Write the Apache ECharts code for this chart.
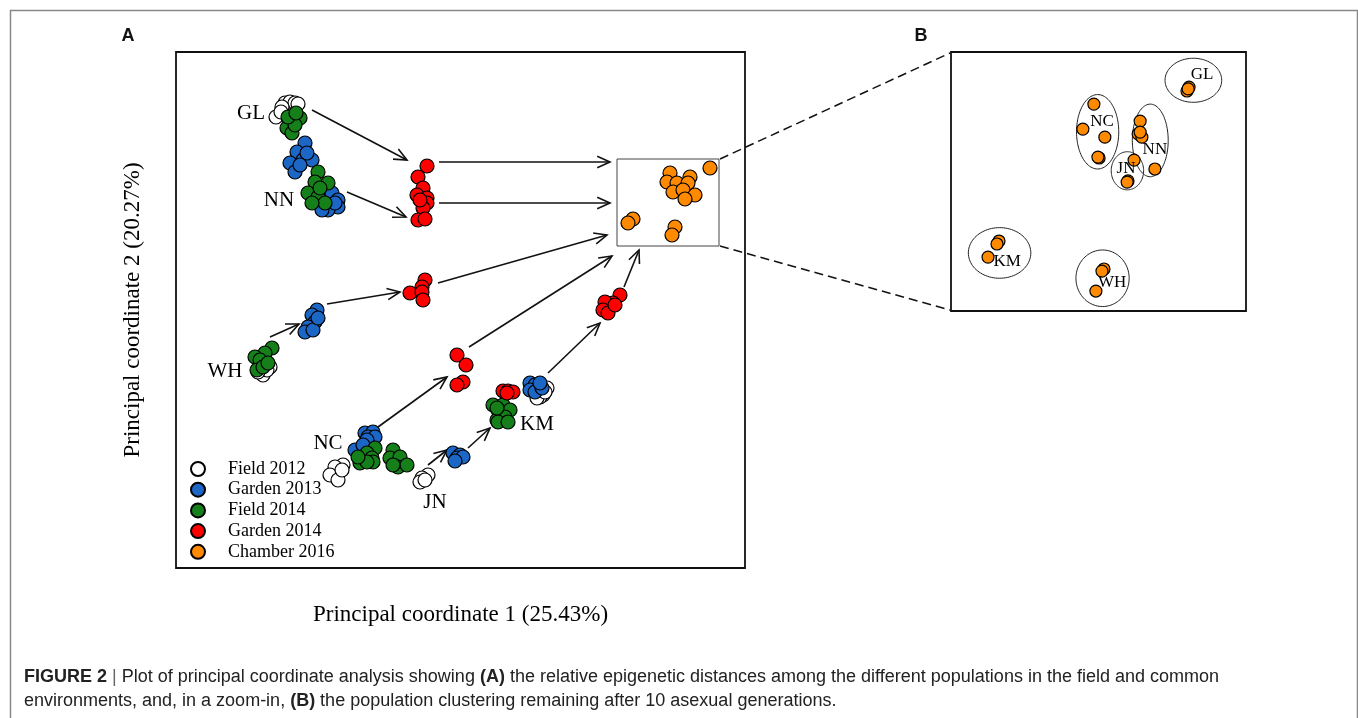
<!DOCTYPE html>
<html><head><meta charset="utf-8">
<script src="https://cdn.jsdelivr.net/npm/echarts@6/dist/echarts.min.js"></script>
<style>html,body{margin:0;padding:0;background:#fff}#c{width:1358px;height:718px}</style>
</head><body><div id="c"></div>
<script>
// ---- Panel A data (principal coordinate scores, arbitrary units) ----
const field2012 = [
  [-1.75,2.07],[-1.70,2.08],[-1.65,2.07],[-1.62,2.06],[-1.78,2.03],[-1.84,1.93],[-1.79,1.98],
  [-1.90,-0.57],[-1.97,-0.65],[-1.93,-0.60],[-2.02,-0.62],
  [-1.17,-1.55],[-1.25,-1.57],[-1.30,-1.65],[-1.22,-1.70],[-1.18,-1.60],
  [-0.32,-1.65],[-0.38,-1.68],[-0.40,-1.72],[-0.35,-1.70],
  [0.83,-0.85],[0.80,-0.87],[0.77,-0.88],[0.87,-0.78],[0.85,-0.82]
];
const garden2013 = [
  [-1.55,1.67],[-1.63,1.58],[-1.70,1.47],[-1.65,1.38],[-1.57,1.50],[-1.48,1.50],[-1.53,1.57],[-1.60,1.45],
  [-1.28,1.17],[-1.22,1.10],[-1.22,1.03],[-1.32,1.00],[-1.38,1.00],[-1.25,1.07],
  [-1.43,0.00],[-1.48,-0.05],[-1.45,-0.12],[-1.52,-0.17],[-1.55,-0.22],[-1.47,-0.20],[-1.42,-0.08],
  [-0.95,-1.23],[-0.87,-1.22],[-0.92,-1.27],[-0.85,-1.27],[-0.93,-1.30],[-1.05,-1.40],[-0.97,-1.35],
  [-0.07,-1.43],[0.00,-1.45],[-0.03,-1.48],[0.03,-1.47],[-0.05,-1.51],
  [0.70,-0.73],[0.75,-0.75],[0.70,-0.80],[0.75,-0.82],[0.82,-0.78],[0.80,-0.73]
];
const field2014 = [
  [-1.60,1.92],[-1.70,1.90],[-1.73,1.82],[-1.68,1.77],[-1.65,1.85],[-1.72,1.93],[-1.64,1.97],
  [-1.42,1.38],[-1.45,1.28],[-1.32,1.27],[-1.52,1.17],[-1.42,1.13],[-1.35,1.07],[-1.48,1.07],[-1.40,1.22],
  [-1.88,-0.38],[-1.95,-0.43],[-2.05,-0.47],[-2.00,-0.50],[-2.03,-0.60],[-1.97,-0.57],[-1.92,-0.53],
  [-0.85,-1.38],[-0.93,-1.43],[-0.88,-1.48],[-1.00,-1.53],[-0.87,-1.52],[-0.93,-1.52],[-1.02,-1.47],
  [-0.67,-1.40],[-0.70,-1.48],[-0.60,-1.47],[-0.62,-1.57],[-0.53,-1.55],[-0.67,-1.55],
  [0.33,-0.95],[0.43,-0.95],[0.38,-1.00],[0.50,-1.00],[0.37,-1.10],[0.45,-1.07],[0.38,-1.12],[0.48,-1.12],[0.37,-0.98]
];
const garden2014 = [
  [-0.33,1.44],[-0.42,1.33],[-0.37,1.22],[-0.43,1.15],[-0.33,1.12],[-0.33,1.07],[-0.37,1.02],[-0.42,0.90],[-0.35,0.91],[-0.40,1.10],
  [-0.35,0.30],[-0.38,0.23],[-0.50,0.17],[-0.38,0.18],[-0.37,0.10],
  [-0.03,-0.45],[0.06,-0.55],[0.03,-0.72],[-0.03,-0.75],
  [0.43,-0.81],[0.48,-0.81],[0.53,-0.82],[0.47,-0.83],
  [1.60,0.15],[1.53,0.07],[1.45,0.08],[1.43,0.00],[1.48,-0.03],[1.55,0.05]
];
const chamber2016 = [
  [2.50,1.42],[2.10,1.37],[2.30,1.33],[2.07,1.28],[2.17,1.27],[2.28,1.27],[2.13,1.18],
  [2.23,1.20],[2.35,1.15],[2.25,1.11],[1.73,0.91],[1.68,0.87],[2.15,0.83],[2.12,0.75]
];
const popNamesA = ['GL','NN','WH','NC','JN','KM'];
const popLabelPosA = [[-2.09,1.97],[-1.81,1.10],[-2.35,-0.61],[-1.32,-1.33],[-0.25,-1.92],[0.77,-1.14]];
// arrows: [fromX, fromY, toX, toY]
const arrowsA = [
  [-1.48,2.00,-0.53,1.50],
  [-1.13,1.18,-0.54,0.93],
  [-0.21,1.48,1.50,1.48],
  [-0.21,1.07,1.50,1.07],
  [-0.22,0.27,1.47,0.75],
  [-1.90,-0.27,-1.61,-0.14],
  [-1.33,0.06,-0.60,0.18],
  [0.09,-0.37,1.52,0.54],
  [-0.82,-1.17,-0.13,-0.67],
  [-0.32,-1.55,-0.13,-1.40],
  [0.08,-1.38,0.30,-1.18],
  [0.88,-0.63,1.40,-0.13],
  [1.64,0.23,1.79,0.60]
];
const rangeA = {xMin:-2.84, xMax:2.85, yMin:-2.58, yMax:2.58};
// zoom window [xMin, yMax, xMax, yMin]
const zoomBox = [1.57, 1.51, 2.59, 0.64];

// ---- Panel B data (zoom-in on Chamber 2016) ----
const chamberZoom = [
  [2.393,1.392],[2.386,1.379],[2.390,1.386],
  [2.064,1.335],[2.026,1.251],[2.102,1.224],[2.082,1.154],[2.078,1.157],
  [2.224,1.278],[2.217,1.235],[2.230,1.224],[2.224,1.241],[2.275,1.117],
  [2.203,1.147],[2.182,1.077],[2.179,1.073],
  [1.736,0.875],[1.729,0.865],[1.698,0.821],
  [2.099,0.781],[2.092,0.774],[2.071,0.707]
];
// ellipses: [cx, cy, rx, ry]
const ellipsesB = [
  [2.408,1.415,0.098,0.074],
  [2.077,1.242,0.073,0.125],
  [2.259,1.213,0.062,0.122],
  [2.180,1.111,0.056,0.064],
  [1.738,0.835,0.108,0.085],
  [2.094,0.750,0.092,0.095]
];
const popNamesB = ['GL','NC','NN','JN','KM','WH'];
const popLabelPosB = [[2.438,1.433],[2.092,1.278],[2.275,1.181],[2.175,1.117],[1.764,0.805],[2.127,0.734]];

const legendNames = ['Field 2012','Garden 2013','Field 2014','Garden 2014','Chamber 2016'];
const colors = {'Field 2012':'#ffffff','Garden 2013':'#1c66c6','Field 2014':'#15801a','Garden 2014':'#ff0000','Chamber 2016':'#ff8a00'};

const SERIF = '"Liberation Serif","Times New Roman",serif';
const NARROW = '"Liberation Sans Narrow","Liberation Sans",Arial,sans-serif';

const chart = echarts.init(document.getElementById('c'), null, {renderer:'canvas'});

function pointSeries(name, data, gi, size){
  return {
    name, type:'scatter', xAxisIndex:gi, yAxisIndex:gi, data,
    symbol:'circle', symbolSize:size, silent:true,
    itemStyle:{color:colors[name], borderColor:'#000', borderWidth:1.2, opacity:1}
  };
}
function labelSeries(names, pos, gi, fs){
  return {
    name:'labels'+gi, type:'scatter', xAxisIndex:gi, yAxisIndex:gi, silent:true,
    symbolSize:1, itemStyle:{color:'#fff', opacity:1},
    data: names.map((n,i)=>({name:n, value:pos[i]})),
    label:{show:true, position:'inside', formatter:'{b}', fontFamily:SERIF, fontSize:fs, color:'#000',
      textBorderWidth:0, textBorderColor:'transparent'},
    z:5
  };
}
const hideAxis = {axisLine:{show:false}, axisTick:{show:false}, axisLabel:{show:false}, splitLine:{show:false}};

chart.setOption({
  animation:false,
  backgroundColor:'#fff',
  grid:[
    {left:176, top:52, width:569, height:516, show:true, borderColor:'#111', borderWidth:1.8, backgroundColor:'transparent'},
    {left:951, top:52, width:295, height:259, show:true, borderColor:'#111', borderWidth:1.8, backgroundColor:'transparent'}
  ],
  xAxis:[
    Object.assign({type:'value', gridIndex:0, min:rangeA.xMin, max:rangeA.xMax,
      name:'Principal coordinate 1 (25.43%)', nameLocation:'middle', nameGap:35,
      nameTextStyle:{fontFamily:SERIF, fontSize:23, color:'#000'}}, hideAxis),
    Object.assign({type:'value', gridIndex:1, min:zoomBox[0], max:zoomBox[2]}, hideAxis)
  ],
  yAxis:[
    Object.assign({type:'value', gridIndex:0, min:rangeA.yMin, max:rangeA.yMax,
      name:'Principal coordinate 2 (20.27%)', nameLocation:'middle', nameGap:32, nameRotate:90,
      nameTextStyle:{fontFamily:SERIF, fontSize:23, color:'#000'}}, hideAxis),
    Object.assign({type:'value', gridIndex:1, min:zoomBox[3], max:zoomBox[1]}, hideAxis)
  ],
  legend:{
    data:legendNames, orient:'vertical', left:190, top:460, padding:0, itemWidth:14, itemHeight:14, itemGap:2.7,
    icon:'circle', selectedMode:false,
    textStyle:{fontFamily:SERIF, fontSize:18, color:'#000', padding:[0,0,0,18]}
  },
  series:[
    {
      name:'zoomBox', type:'custom', xAxisIndex:0, yAxisIndex:0, silent:true,
      data:[zoomBox], encode:{x:[0,2], y:[1,3]},
      renderItem:function(params, api){
        const a = api.coord([api.value(0), api.value(1)]);
        const b = api.coord([api.value(2), api.value(3)]);
        return {type:'rect', shape:{x:a[0], y:a[1], width:b[0]-a[0], height:b[1]-a[1]},
          style:{stroke:'#444', lineWidth:1, fill:'none'}};
      }, z:1
    },
    {
      name:'arrows', type:'custom', xAxisIndex:0, yAxisIndex:0, silent:true,
      data:arrowsA, encode:{x:[0,2], y:[1,3]},
      renderItem:function(params, api){
        const p1 = api.coord([api.value(0), api.value(1)]);
        const p2 = api.coord([api.value(2), api.value(3)]);
        const ang = Math.atan2(p2[1]-p1[1], p2[0]-p1[0]);
        const L = 14, w = Math.PI/7.5;
        const w1 = [p2[0]-L*Math.cos(ang-w), p2[1]-L*Math.sin(ang-w)];
        const w2 = [p2[0]-L*Math.cos(ang+w), p2[1]-L*Math.sin(ang+w)];
        return {type:'group', children:[
          {type:'line', shape:{x1:p1[0], y1:p1[1], x2:p2[0], y2:p2[1]}, style:{stroke:'#111', lineWidth:1.6}},
          {type:'polyline', shape:{points:[w1,p2,w2]}, style:{stroke:'#111', lineWidth:1.6, fill:'none'}}
        ]};
      }, z:2
    },
    pointSeries('Field 2012', field2012, 0, 14),
    pointSeries('Garden 2013', garden2013, 0, 14),
    pointSeries('Field 2014', field2014, 0, 14),
    pointSeries('Garden 2014', garden2014, 0, 14),
    pointSeries('Chamber 2016', chamber2016, 0, 14),
    labelSeries(popNamesA, popLabelPosA, 0, 21),
    {
      name:'ellipses', type:'custom', xAxisIndex:1, yAxisIndex:1, silent:true,
      data:ellipsesB, encode:{x:0, y:1},
      renderItem:function(params, api){
        const c = api.coord([api.value(0), api.value(1)]);
        const s = api.size([api.value(2), api.value(3)]);
        const pts = [];
        for (let i=0;i<96;i++){ const t=i/96*Math.PI*2; pts.push([c[0]+s[0]*Math.cos(t), c[1]+s[1]*Math.sin(t)]); }
        return {type:'polygon', shape:{points:pts}, style:{stroke:'#222', lineWidth:1, fill:'none'}};
      }, z:1
    },
    pointSeries('Chamber 2016', chamberZoom, 1, 12),
    labelSeries(popNamesB, popLabelPosB, 1, 17)
  ]
});

// connectors and page furniture
const tr = chart.convertToPixel({gridIndex:0}, [zoomBox[2], zoomBox[1]]);
const br = chart.convertToPixel({gridIndex:0}, [zoomBox[2], zoomBox[3]]);
const btl = chart.convertToPixel({gridIndex:1}, [zoomBox[0], zoomBox[1]]);
const bbl = chart.convertToPixel({gridIndex:1}, [zoomBox[0], zoomBox[3]]);
const dash = {stroke:'#111', lineWidth:1.5, lineDash:[9,5]};
chart.setOption({
  graphic:[
    {type:'rect', left:8, top:8, shape:{width:1347, height:740}, style:{stroke:'#888', lineWidth:1.5, fill:'none'}, silent:true},
    {type:'line', shape:{x1:tr[0]+1, y1:tr[1], x2:btl[0]-1, y2:btl[1]+1}, style:dash, silent:true},
    {type:'line', shape:{x1:br[0]+1, y1:br[1], x2:bbl[0]-1, y2:bbl[1]-1}, style:dash, silent:true},
    {type:'text', x:128, y:36, style:{text:'A', font:'bold 18px '+NARROW, fill:'#111', align:'center', verticalAlign:'middle'}, silent:true},
    {type:'text', x:921, y:36, style:{text:'B', font:'bold 18px '+NARROW, fill:'#111', align:'center', verticalAlign:'middle'}, silent:true},
    {type:'text', x:24, y:677, silent:true, style:{
      text:'{b|FIGURE 2 }{s||} Plot of principal coordinate analysis showing {b|(A)} the relative epigenetic distances among the different populations in the field and common',
      font:'18px '+NARROW, fill:'#222', verticalAlign:'middle',
      rich:{b:{fontWeight:'bold', fontFamily:NARROW, fontSize:18, fill:'#222'}, s:{fontFamily:NARROW, fontSize:18, fill:'#666'}}
    }},
    {type:'text', x:24, y:701, silent:true, style:{
      text:'environments, and, in a zoom-in, {b|(B)} the population clustering remaining after 10 asexual generations.',
      font:'18px '+NARROW, fill:'#222', verticalAlign:'middle',
      rich:{b:{fontWeight:'bold', fontFamily:NARROW, fontSize:18, fill:'#222'}}
    }}
  ]
});
</script>
</body></html>
